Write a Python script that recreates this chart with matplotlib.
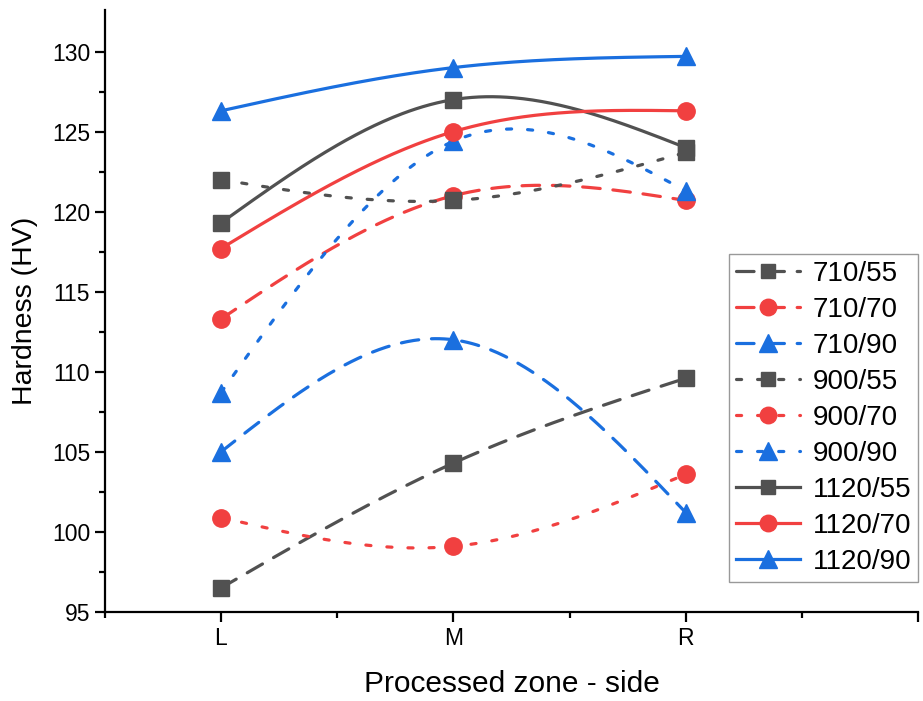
import numpy as np
import matplotlib.pyplot as plt

plt.rcParams['font.family'] = ['Liberation Sans', 'DejaVu Sans']

zones = ['L', 'M', 'R']
labels = ['710/55', '710/70', '710/90',
          '900/55', '900/70', '900/90',
          '1120/55', '1120/70', '1120/90']

hv_710_55 = [96.5, 104.3, 109.6]
hv_710_70 = [113.3, 121.0, 120.7]
hv_710_90 = [105.0, 112.0, 101.2]
hv_900_55 = [122.0, 120.7, 123.7]
hv_900_70 = [100.9, 99.1, 103.6]
hv_900_90 = [108.7, 124.4, 121.3]
hv_1120_55 = [119.3, 127.0, 124.0]
hv_1120_70 = [117.7, 125.0, 126.3]
hv_1120_90 = [126.3, 129.0, 129.7]

series = [hv_710_55, hv_710_70, hv_710_90,
          hv_900_55, hv_900_70, hv_900_90,
          hv_1120_55, hv_1120_70, hv_1120_90]

colors = ['#515151', '#F14040', '#1A6FDF']
markers = ['s', 'o', '^']
msizes = [11, 12.5, 13]
styles = [(0, (5.5, 4)), (0, (1.6, 5.0)), '-']


def natural_spline(y, n=101):
    # natural cubic spline through 3 equally spaced points (h = 1)
    y0, y1, y2 = y
    m1 = 1.5 * (y0 - 2 * y1 + y2)
    t = np.linspace(0, 1, n)
    s1 = m1 * t**3 / 6 + y0 * (1 - t) + (y1 - m1 / 6) * t
    s2 = m1 * (1 - t)**3 / 6 + (y1 - m1 / 6) * (1 - t) + y2 * t
    return np.concatenate([s1, s2[1:]])


n = 101
xs = np.concatenate([np.linspace(1, 2, n), np.linspace(2, 3, n)[1:]])

fig = plt.figure(figsize=(9.23, 7.01), dpi=100)
ax = fig.add_axes([0.1135, 0.127, 0.8814, 0.8588])

for i, (lab, vals) in enumerate(zip(labels, series)):
    ax.plot(xs, natural_spline(vals, n), color=colors[i % 3],
            linestyle=styles[i // 3], lw=2.3, marker=markers[i % 3],
            markevery=[0, n - 1, 2 * n - 2], markersize=msizes[i % 3],
            label=lab, dash_capstyle='round')

ax.set_xlim(0.5, 4.0)
ax.set_ylim(95, 132.6)
ax.set_xticks([1, 2, 3, 4])
ax.set_xticklabels(zones + [''])
ax.set_xticks([0.5, 1.5, 2.5, 3.5], minor=True)
ax.set_yticks(np.arange(95, 131, 5))
ax.set_yticks(np.arange(97.5, 131, 5), minor=True)

for s in ['top', 'right']:
    ax.spines[s].set_visible(False)
for s in ['left', 'bottom']:
    ax.spines[s].set_linewidth(1.6)

ax.tick_params(which='major', direction='out', length=7, width=1.6, labelsize=16.5)
ax.tick_params(which='minor', direction='out', length=4, width=1.6)

ax.set_xlabel('Processed zone - side', fontsize=21.5, labelpad=15)
ax.set_ylabel('Hardness (HV)', fontsize=20.5, labelpad=10)

leg = ax.legend(loc='lower right', bbox_to_anchor=(1.0, 0.05), borderaxespad=0,
                fontsize=20, numpoints=1, handlelength=2.3, handletextpad=0.45,
                labelspacing=0.36, borderpad=0.25, fancybox=False, framealpha=1,
                markerscale=0.95)
leg.get_frame().set_edgecolor('#999999')
leg.get_frame().set_linewidth(1.0)

fig.savefig('out.png', dpi=100)
